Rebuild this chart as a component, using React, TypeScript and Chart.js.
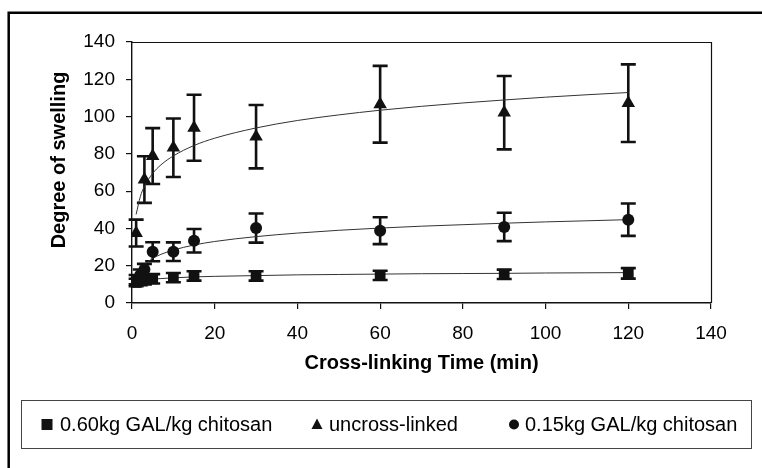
import React, { useEffect, useRef } from "react";
import { Chart, registerables } from "chart.js";

Chart.register(...registerables);

// ---- data ----
const timeUncross = [1, 3, 5, 10, 15, 30, 60, 90, 120];
const swellUncross = [37.5, 66.2, 78.8, 83.3, 94.0, 89.2, 106.6, 102.1, 107.2];
const errUncross = [7.2, 12.5, 15.0, 15.7, 17.7, 17.0, 20.6, 19.7, 20.8];

const time015 = [1, 2, 3, 5, 10, 15, 30, 60, 90, 120];
const swell015 = [12.5, 15.0, 18.0, 27.5, 27.5, 33.4, 40.2, 38.8, 40.8, 44.7];
const err015 = [2.5, 3.0, 3.0, 5.1, 5.0, 6.3, 7.8, 7.2, 7.6, 8.7];

const time060 = [1, 2, 3, 5, 10, 15, 30, 60, 90, 120];
const swell060 = [11.0, 12.0, 12.5, 13.0, 13.6, 14.5, 14.5, 14.8, 15.4, 15.9];
const err060 = [2.0, 2.5, 2.5, 2.5, 2.5, 2.5, 2.5, 2.5, 2.5, 2.8];

// trend lines
const fitTime = [1, 2, 3, 5, 7, 10, 15, 20, 30, 40, 50, 60, 70, 80, 90, 100, 110, 120];
const fitUncross = [47.5, 57.0, 62.5, 69.5, 74.1, 78.9, 84.5, 88.4, 93.9, 97.9, 100.9, 103.4, 105.5, 107.3, 108.9, 110.4, 111.7, 112.9];
const fit060 = [11.0, 11.8, 12.2, 12.8, 13.1, 13.5, 14.0, 14.3, 14.7, 15.1, 15.3, 15.5, 15.7, 15.8, 15.9, 16.1, 16.2, 16.3];
const fitTime015 = [2, 3, 5, 7, 10, 15, 20, 30, 40, 50, 60, 70, 80, 90, 100, 110, 120];
const fit015 = [17.8, 20.5, 23.9, 26.1, 28.4, 31.1, 33.0, 35.6, 37.5, 39.0, 40.2, 41.2, 42.0, 42.8, 43.5, 44.1, 44.7];

const xTicks = [0, 20, 40, 60, 80, 100, 120, 140];
const yTicks = [0, 20, 40, 60, 80, 100, 120, 140];

const xTitle = "Cross-linking Time (min)";
const yTitle = "Degree of swelling";
const label060 = "0.60kg GAL/kg chitosan";
const labelUncross = "uncross-linked";
const label015 = "0.15kg GAL/kg chitosan";

const FONT = "'Liberation Sans', Arial, Helvetica, sans-serif";
const INK = "#111111";

const pts = (xs: number[], ys: number[]) => xs.map((x, i) => ({ x, y: ys[i] }));

const framePlugin = {
  id: "frameAndExtras",
  beforeDatasetsDraw(chart: any) {
    const ctx = chart.ctx;
    const xs = chart.scales.x;
    const ys = chart.scales.y;
    ctx.save();
    // error bars
    chart.data.datasets.forEach((ds: any) => {
      if (!ds.errors) return;
      ctx.strokeStyle = INK;
      ctx.lineWidth = 2.6;
      ds.data.forEach((p: any, i: number) => {
        const e = ds.errors[i];
        const px = xs.getPixelForValue(p.x);
        const top = ys.getPixelForValue(p.y + e);
        const bot = ys.getPixelForValue(p.y - e);
        ctx.beginPath();
        ctx.moveTo(px, top);
        ctx.lineTo(px, bot);
        ctx.moveTo(px - 7.5, top);
        ctx.lineTo(px + 7.5, top);
        ctx.moveTo(px - 7.5, bot);
        ctx.lineTo(px + 7.5, bot);
        ctx.stroke();
      });
    });
    ctx.restore();
  },
  afterDraw(chart: any) {
    const ctx = chart.ctx;
    const a = chart.chartArea;
    ctx.save();
    // plot box top and right edges
    ctx.strokeStyle = INK;
    ctx.lineWidth = 1.2;
    ctx.beginPath();
    ctx.moveTo(a.left, a.top + 0.5);
    ctx.lineTo(a.right + 0.5, a.top + 0.5);
    ctx.lineTo(a.right + 0.5, a.bottom);
    ctx.stroke();

    // outer frame (left and top)
    ctx.strokeStyle = "#000";
    ctx.lineWidth = 2.5;
    ctx.beginPath();
    ctx.moveTo(8.7, 468);
    ctx.lineTo(8.7, 12.8);
    ctx.lineTo(762, 12.8);
    ctx.stroke();

    // y axis title
    ctx.fillStyle = "#000";
    ctx.font = `bold 20px ${FONT}`;
    ctx.textAlign = "center";
    ctx.textBaseline = "middle";
    ctx.translate(59, 160);
    ctx.rotate(-Math.PI / 2);
    ctx.fillText(yTitle, 0, 0);
    ctx.setTransform(1, 0, 0, 1, 0, 0);

    // legend box
    ctx.strokeStyle = "#444";
    ctx.lineWidth = 1;
    ctx.strokeRect(21.5, 400.5, 730, 48);

    const cy = 424.5;
    ctx.fillStyle = INK;
    // square
    ctx.fillRect(41.5, cy - 5.5, 11, 11);
    // triangle
    ctx.beginPath();
    ctx.moveTo(317, cy - 6);
    ctx.lineTo(322.5, cy + 4.5);
    ctx.lineTo(311.5, cy + 4.5);
    ctx.closePath();
    ctx.fill();
    // circle
    ctx.beginPath();
    ctx.arc(514, cy, 5, 0, Math.PI * 2);
    ctx.fill();

    ctx.fillStyle = "#000";
    ctx.font = `20px ${FONT}`;
    ctx.textAlign = "left";
    ctx.textBaseline = "middle";
    const ds = chart.data.datasets;
    const labels = ds.filter((d: any) => d.inLegend).map((d: any) => d.label);
    const starts = [60, 329, 525];
    labels.forEach((t: string, i: number) => ctx.fillText(t, starts[i], cy + 1));
    ctx.restore();
  },
};

export default function App() {
  const ref = useRef<HTMLCanvasElement | null>(null);
  useEffect(() => {
    if (!ref.current) return;
    const lineStyle = {
      type: "line" as const,
      showLine: true,
      borderColor: "#333",
      borderWidth: 1,
      pointRadius: 0,
      cubicInterpolationMode: "monotone" as const,
      fill: false,
      order: 2,
    };
    const chart = new Chart(ref.current, {
      type: "line",
      data: {
        datasets: [
          {
            ...lineStyle,
            label: "fit 0.60",
            data: pts(fitTime, fit060),
          },
          {
            ...lineStyle,
            label: "fit uncross",
            data: pts(fitTime, fitUncross),
          },
          {
            ...lineStyle,
            label: "fit 0.15",
            data: pts(fitTime015, fit015),
          },
          {
            label: label060,
            data: pts(time060, swell060),
            errors: err060,
            inLegend: true,
            showLine: false,
            pointStyle: "rect",
            pointRadius: 7.6,
            backgroundColor: INK,
            borderColor: INK,
            borderWidth: 0,
            order: 0,
          } as any,
          {
            label: labelUncross,
            data: pts(timeUncross, swellUncross),
            errors: errUncross,
            inLegend: true,
            showLine: false,
            pointStyle: "triangle",
            pointRadius: 7.8,
            backgroundColor: INK,
            borderColor: INK,
            borderWidth: 0,
            order: 0,
          } as any,
          {
            label: label015,
            data: pts(time015, swell015),
            errors: err015,
            inLegend: true,
            showLine: false,
            pointStyle: "circle",
            pointRadius: 6,
            backgroundColor: INK,
            borderColor: INK,
            borderWidth: 0,
            order: 0,
          } as any,
        ],
      },
      options: {
        animation: false,
        responsive: false,
        events: [],
        layout: { padding: { left: 8, top: 42, right: 51, bottom: 80 } },
        plugins: {
          legend: { display: false },
          tooltip: { enabled: false },
        },
        scales: {
          x: {
            type: "linear",
            min: 0,
            max: 140,
            afterFit: (s: any) => {
              s.height = 85;
            },
            afterBuildTicks: (s: any) => {
              s.ticks = xTicks.map((v) => ({ value: v }));
            },
            ticks: {
              color: "#000",
              font: { family: FONT, size: 19 },
              padding: 13,
              maxRotation: 0,
            },
            grid: {
              display: true,
              drawOnChartArea: false,
              drawTicks: true,
              tickLength: 6,
              color: INK,
              lineWidth: 1.2,
            },
            border: { display: true, color: INK, width: 1.4 },
            title: {
              display: true,
              text: xTitle,
              color: "#000",
              font: { family: FONT, size: 20, weight: "bold" },
              padding: { top: 4, bottom: 13 },
            },
          },
          y: {
            type: "linear",
            min: 0,
            max: 140,
            afterFit: (s: any) => {
              s.width = 124;
            },
            afterBuildTicks: (s: any) => {
              s.ticks = yTicks.map((v) => ({ value: v }));
            },
            ticks: {
              color: "#000",
              font: { family: FONT, size: 19 },
              padding: 11,
            },
            grid: {
              display: true,
              drawOnChartArea: false,
              drawTicks: true,
              tickLength: 6,
              color: INK,
              lineWidth: 1.2,
            },
            border: { display: true, color: INK, width: 1.4 },
            title: { display: false },
          },
        },
      },
      plugins: [framePlugin],
    } as any);
    return () => chart.destroy();
  }, []);

  return (
    <div
      style={{
        position: "fixed",
        left: 0,
        top: 0,
        width: 762,
        height: 468,
        background: "#fff",
      }}
    >
      <canvas ref={ref} width={762} height={468} />
    </div>
  );
}
